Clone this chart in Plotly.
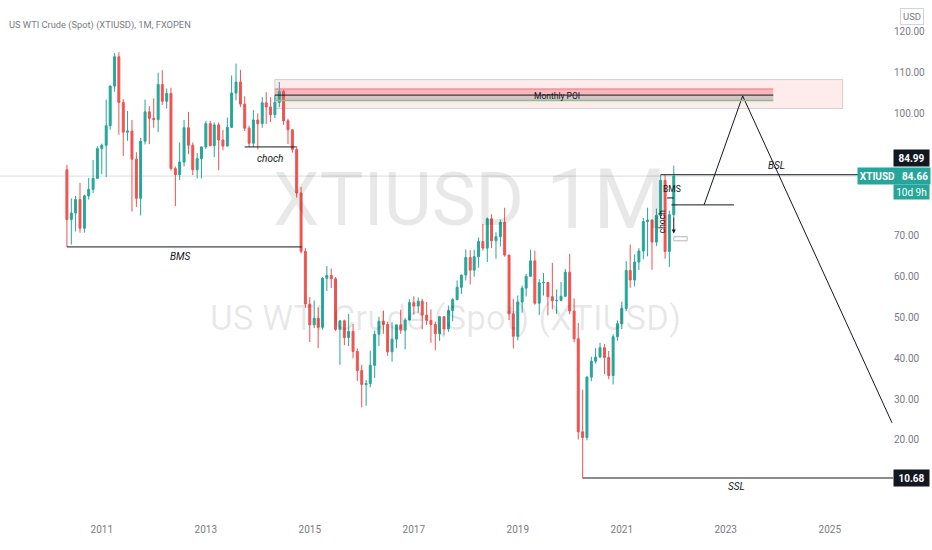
import pandas as pd
import plotly.graph_objects as go

# monthly XTIUSD candles, May 2010 .. Jan 2022
opens = [86.2, 74.0, 75.6, 78.9, 71.9, 79.8, 81.4, 84.1,
         91.4, 92.2, 97.0, 106.7, 113.9, 102.7, 95.4, 95.7, 88.8, 79.2, 93.2, 100.4,
         98.8, 98.5, 107.1, 103.0, 104.9, 86.5, 85.0, 88.1, 96.5, 92.2, 86.2, 88.9,
         91.8, 97.5, 92.1, 97.2, 93.5, 92.0, 96.6, 105.0, 107.7, 102.3, 96.4, 92.7,
         98.4, 97.5, 102.6, 101.6, 99.7, 102.7, 105.4, 98.2, 96.0, 91.2, 80.5, 66.2,
         53.3, 48.2, 49.8, 47.6, 59.6, 60.3, 59.5, 47.1, 49.2, 45.1, 46.6, 41.7,
         37.0, 33.6, 33.8, 38.3, 45.9, 49.1, 48.3, 41.6, 44.7, 48.2, 46.9, 49.4,
         53.7, 52.8, 54.0, 50.6, 49.3, 48.3, 46.0, 50.2, 47.2, 51.7, 54.4, 57.4,
         60.4, 64.7, 61.6, 64.9, 68.6, 67.0, 74.2, 68.8, 69.8, 73.3, 65.3, 50.9,
         45.4, 53.8, 57.2, 60.1, 63.9, 53.5, 58.5, 58.6, 55.1, 54.1, 54.2, 55.2,
         61.1, 51.6, 44.8, 22.0, 20.6, 35.4, 39.3, 40.3, 42.6, 40.2, 35.8, 45.3,
         48.5, 52.2, 61.5, 59.2, 63.6, 66.3, 73.5, 73.9, 68.5, 75.0, 83.6, 66.2,
         75.2]
highs = [87.4, 79.2, 79.8, 83.0, 80.1, 84.2, 88.6, 92.0,
         92.6, 103.4, 106.9, 114.8, 115.0, 103.5, 100.6, 98.4, 90.5, 94.0, 103.4, 101.8,
         103.7, 110.0, 110.6, 106.1, 106.3, 87.0, 92.9, 98.4, 100.4, 92.9, 90.3, 91.9,
         98.2, 98.2, 97.8, 97.8, 96.0, 99.0, 109.3, 112.2, 110.7, 104.2, 97.0, 100.8,
         100.0, 104.0, 105.2, 104.0, 104.5, 107.7, 105.8, 98.7, 95.9, 92.0, 82.0, 67.0,
         55.0, 54.2, 52.5, 59.9, 62.6, 62.0, 59.9, 49.3, 49.5, 50.9, 48.4, 42.4,
         38.4, 34.7, 41.9, 46.8, 50.2, 51.7, 49.0, 48.8, 48.3, 51.9, 49.9, 54.5,
         55.2, 54.9, 54.6, 53.8, 52.0, 49.0, 50.4, 50.2, 52.9, 54.7, 59.1, 60.5,
         66.7, 66.5, 66.6, 69.6, 72.9, 74.5, 75.3, 70.9, 74.0, 76.9, 65.4, 54.6,
         55.4, 57.8, 60.7, 66.6, 66.4, 59.4, 60.9, 58.7, 63.4, 56.9, 58.7, 61.9,
         65.6, 54.7, 48.7, 32.3, 35.6, 40.4, 42.5, 43.8, 43.5, 41.8, 45.9, 49.3,
         53.9, 63.8, 67.9, 65.5, 67.0, 74.4, 76.9, 74.0, 76.7, 85.0, 84.9, 76.2,
         87.2]
lows = [67.3, 67.9, 71.1, 70.8, 70.8, 78.9, 80.5, 84.0,
        85.1, 84.4, 96.0, 105.3, 94.8, 89.6, 93.3, 76.0, 77.1, 75.0, 92.4, 92.5,
        96.5, 95.4, 102.1, 101.2, 86.0, 77.3, 83.7, 87.0, 90.0, 84.9, 84.1, 84.1,
        91.3, 92.0, 89.3, 86.1, 91.0, 92.2, 96.4, 103.2, 101.6, 95.7, 91.8, 91.8,
        91.2, 96.5, 97.4, 97.9, 98.9, 101.5, 97.2, 92.5, 90.4, 79.4, 65.7, 52.4,
        44.0, 47.4, 42.5, 47.0, 56.5, 57.2, 46.7, 38.4, 43.2, 43.0, 40.0, 34.5,
        28.0, 28.4, 32.9, 35.2, 43.0, 46.0, 40.6, 39.2, 42.5, 46.0, 42.2, 49.3,
        50.7, 51.2, 47.1, 48.2, 43.8, 42.0, 44.3, 45.6, 46.5, 49.1, 54.2, 55.8,
        59.1, 58.1, 60.0, 62.2, 66.4, 63.6, 67.0, 64.4, 67.4, 64.9, 49.4, 42.4,
        44.4, 51.2, 55.2, 60.1, 53.1, 50.6, 55.4, 50.5, 52.0, 50.9, 54.1, 55.0,
        50.8, 43.9, 20.1, 10.68, 19.9, 34.4, 38.7, 40.2, 36.1, 34.9, 33.6, 44.3,
        47.2, 51.6, 57.3, 57.6, 61.6, 64.3, 65.0, 61.7, 67.5, 74.2, 64.4, 62.4,
        74.3]
closes = [74.0, 75.6, 78.9, 71.9, 79.8, 81.4, 84.1, 91.4,
          92.2, 97.0, 106.7, 113.9, 102.7, 95.4, 95.7, 88.8, 79.2, 93.2, 100.4, 98.8,
          98.5, 107.1, 103.0, 104.9, 86.5, 85.0, 88.1, 96.5, 92.2, 86.2, 88.9, 91.8,
          97.5, 92.1, 97.2, 93.5, 92.0, 96.6, 105.0, 107.7, 102.3, 96.4, 92.7, 98.4,
          97.5, 102.6, 101.6, 99.7, 102.7, 105.4, 98.2, 96.0, 91.2, 80.5, 66.2, 53.3,
          48.2, 49.8, 47.6, 59.6, 60.3, 59.5, 47.1, 49.2, 45.1, 46.6, 41.7, 37.0,
          33.6, 33.8, 38.3, 45.9, 49.1, 48.3, 41.6, 44.7, 48.2, 46.9, 49.4, 53.7,
          52.8, 54.0, 50.6, 49.3, 48.3, 46.0, 50.2, 47.2, 51.7, 54.4, 57.4, 60.4,
          64.7, 61.6, 64.9, 68.6, 67.0, 74.2, 68.8, 69.8, 73.3, 65.3, 50.9, 45.4,
          53.8, 57.2, 60.1, 63.9, 53.5, 58.5, 58.6, 55.1, 54.1, 54.2, 55.2, 61.1,
          51.6, 44.8, 22.0, 20.6, 35.4, 39.3, 40.3, 42.6, 40.2, 35.8, 45.3, 48.5,
          52.2, 61.5, 59.2, 63.6, 66.3, 73.5, 73.9, 68.5, 75.0, 83.6, 66.2, 75.2,
          84.66]
months = pd.date_range("2010-05-01", periods=len(closes), freq="MS")

# drawings on the chart
bms_level = 67.3
choch_level = 91.8
poi_top, poi_bottom = 108.3, 101.2
poi_red, poi_black, poi_green = 106.0, 104.5, 103.2
bsl_level = 84.99
ssl_level = 10.68
last_price = 84.66
zigzag_dates = ["2022-08-02", "2023-04-30", "2026-03-14"]
zigzag_prices = [77.6, 104.3, 24.2]
year_ticks = ["2011", "2013", "2015", "2017", "2019", "2021", "2023", "2025"]
price_ticks = [20, 30, 40, 50, 60, 70, 100, 110, 120]

x_range = ["2009-01-16", "2026-03-21"]
FONT = "Roboto, Liberation Sans, sans-serif"
UP = "#26a69a"
DOWN = "#ef5350"
INK = "#131722"
GREY = "#787b86"
PW = 893.0  # plot width in px, used for paper positions

fig = go.Figure()
fig.add_trace(go.Candlestick(
    x=months, open=opens, high=highs, low=lows, close=closes,
    increasing=dict(line=dict(color=UP, width=1), fillcolor=UP),
    decreasing=dict(line=dict(color=DOWN, width=1), fillcolor=DOWN),
    whiskerwidth=0, showlegend=False))

fig.add_trace(go.Scatter(x=zigzag_dates, y=zigzag_prices, mode="lines",
                         line=dict(color=INK, width=1), showlegend=False))


def hline(x0, x1, y, color=INK, width=1):
    fig.add_shape(type="line", x0=x0, x1=x1, y0=y, y1=y,
                  line=dict(color=color, width=width))


def rect(x0, x1, y0, y1, fill, border="rgba(0,0,0,0)"):
    fig.add_shape(type="rect", x0=x0, x1=x1, y0=y0, y1=y1, fillcolor=fill,
                  line=dict(color=border, width=1), layer="below")


# last price line
fig.add_shape(type="line", xref="paper", x0=0, x1=1, y0=last_price, y1=last_price,
              line=dict(color="#d5dede", width=1), layer="below")

# monthly POI
rect("2014-05-01", "2025-04-01", poi_bottom, poi_top, "rgba(242,54,69,0.10)", "rgba(170,170,170,0.5)")
rect("2014-05-01", "2023-12-01", poi_black, poi_red, "rgba(242,54,69,0.28)")
rect("2014-05-01", "2023-12-01", poi_green, poi_black, "rgba(120,110,110,0.30)")
hline("2014-05-01", "2023-12-01", poi_red, "#e8737d")
hline("2014-05-01", "2023-12-01", poi_black, INK)
hline("2014-05-01", "2023-12-01", poi_green, "#8cbf8f", 1.5)

hline("2010-05-01", "2014-11-05", bms_level)
hline("2013-10-01", "2014-09-25", choch_level)
hline("2021-10-01", x_range[1], bsl_level)
hline("2020-04-01", x_range[1], ssl_level)
hline("2021-12-15", "2023-02-28", 77.6)
hline("2021-11-15", "2022-01-01", 79.3)
fig.add_shape(type="rect", x0="2022-01-01", x1="2022-04-05", y0=68.8, y1=69.8,
              fillcolor="white", line=dict(color="#b8b8b8", width=1))

notes = [
    ("<i>BMS</i>", "2012-07-05", 65.0, 10, 0),
    ("<i>choch</i>", "2014-03-28", 88.9, 10, 0),
    ("<i>BSL</i>", "2023-12-21", 87.2, 10, 0),
    ("<i>SSL</i>", "2023-03-21", 8.6, 10, 0),
    ("Monthly POI", "2019-10-05", 104.3, 8.5, 0),
    ("BMS", "2021-12-20", 81.6, 8.5, 0),
    ("choch", "2021-10-12", 73.4, 8.5, -90),
]
for txt, x, y, size, ang in notes:
    fig.add_annotation(x=x, y=y, text=txt, showarrow=False, textangle=ang,
                       font=dict(family=FONT, size=size, color=INK))

fig.add_annotation(x="2022-01-01", y=70.6, ax="2022-01-01", ay=74.8, axref="x", ayref="y",
                   text="", showarrow=True, arrowhead=2, arrowsize=0.8, arrowwidth=1,
                   arrowcolor=INK)

# watermark
WM = "rgba(0,0,0,0.09)"
fig.add_annotation(xref="paper", yref="paper", x=398 / PW, y=1 - 199 / 522, text="XTIUSD",
                   xanchor="center", yanchor="middle",
                   showarrow=False, font=dict(family=FONT, size=74, color=WM))
fig.add_annotation(xref="paper", yref="paper", x=606 / PW, y=1 - 199 / 522, text="1M",
                   xanchor="center", yanchor="middle",
                   showarrow=False, font=dict(family=FONT, size=84, color=WM))
fig.add_annotation(xref="paper", yref="paper", x=445 / PW, y=1 - 318 / 522,
                   text="US WTI Crude (Spot) (XTIUSD)", xanchor="center", yanchor="middle",
                   showarrow=False, font=dict(family=FONT, size=35, color=WM))

# header
fig.add_annotation(xref="paper", yref="paper", x=7 / PW, y=1 - 17 / 522, xanchor="left",
                   text="US WTI Crude (Spot) (XTIUSD), 1M, FXOPEN", showarrow=False,
                   font=dict(family=FONT, size=9.3, color=GREY))
fig.add_annotation(xref="paper", yref="paper", x=912 / PW, y=1 - 16 / 522, text="USD",
                   xanchor="center", yanchor="middle",
                   showarrow=False, bordercolor="#d1d4dc", borderwidth=1, borderpad=2,
                   font=dict(family=FONT, size=9.5, color=GREY))

# price scale labels
fig.add_annotation(xref="paper", yref="y", x=1.0, xanchor="left", y=89.1, text="<b>84.99</b>",
                   showarrow=False, bgcolor=INK, width=33, height=14,
                   font=dict(family=FONT, size=10, color="white"))
fig.add_annotation(xref="paper", yref="y", x=857 / PW, xanchor="left", y=last_price,
                   text="<b>XTIUSD</b>&nbsp;&nbsp;&nbsp;<b>84.66</b>",
                   showarrow=False, bgcolor=UP, width=70, height=14,
                   font=dict(family=FONT, size=10, color="white"))
fig.add_annotation(xref="paper", yref="y", x=1.0, xanchor="left", y=80.8, text="10d 9h",
                   showarrow=False, bgcolor=UP, width=33, height=12,
                   font=dict(family=FONT, size=10, color="white"))
fig.add_annotation(xref="paper", yref="y", x=1.0, xanchor="left", y=ssl_level, text="<b>10.68</b>",
                   showarrow=False, bgcolor=INK, width=33, height=14,
                   font=dict(family=FONT, size=10, color="white"))

fig.update_layout(
    width=932, height=550,
    margin=dict(l=0, r=39, t=0, b=28),
    paper_bgcolor="white", plot_bgcolor="white",
    font=dict(family=FONT, size=10, color=GREY),
    xaxis=dict(type="date", range=x_range, rangeslider=dict(visible=False),
               tickvals=[y + "-01-01" for y in year_ticks], ticktext=year_ticks,
               showgrid=False, zeroline=False, showline=False, ticks="",
               tickfont=dict(size=10, color=GREY)),
    yaxis=dict(range=[-0.1, 127.8], side="right", tickvals=price_ticks,
               ticktext=["%.2f" % v for v in price_ticks],
               showgrid=False, zeroline=False, showline=False, ticks="",
               tickfont=dict(size=10, color=GREY)),
    hovermode=False,
)

# the page must start at the window's top-left corner
fig.write_html("out.html", config={"displayModeBar": False},
               post_script="document.body.style.margin='0';")
